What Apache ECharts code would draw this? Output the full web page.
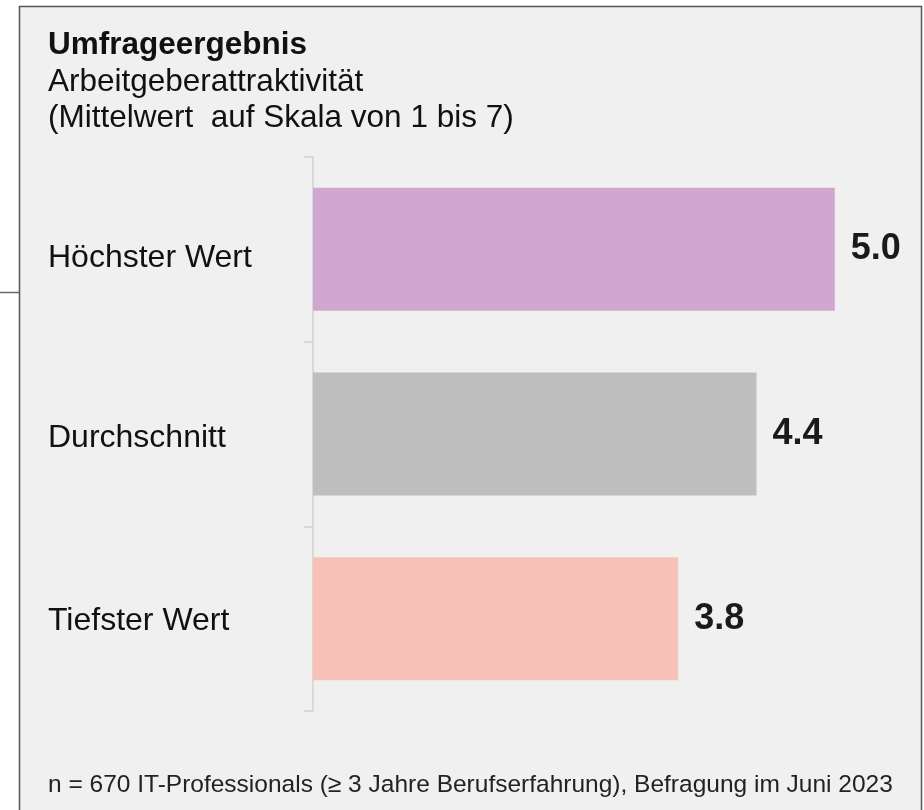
<!DOCTYPE html>
<html>
<head>
<meta charset="utf-8">
<script src="https://cdn.jsdelivr.net/npm/echarts@6/dist/echarts.min.js"></script>
<style>
    html, body { margin: 0; padding: 0; background: #fff; }
    #chart { width: 924px; height: 810px; }
</style>
</head>
<body>
<div id="chart"></div>
<script>
var categories = ['Höchster Wert', 'Durchschnitt', 'Tiefster Wert'];
var values = [5.0, 4.4, 3.8];
var barColors = ['#cfa7d0', '#bebebe', '#f7c1b8'];

var titleText = 'Umfrageergebnis';
var subText = 'Arbeitgeberattraktivität\n(Mittelwert  auf Skala von 1 bis 7)';
var footText = 'n = 670 IT-Professionals (≥ 3 Jahre Berufserfahrung), Befragung im Juni 2023';

var font = '"Liberation Sans", Arial, sans-serif';

var myChart = echarts.init(document.getElementById('chart'));

var data = [];
for (var i = 0; i < values.length; i++) {
    data.push({
        value: values[i],
        itemStyle: { color: barColors[i] }
    });
}

// kleine vertikale Korrektur je Kategorie-Label
var labelRich = {};
var labelPad = [18, 8, 6];
for (var k = 0; k < labelPad.length; k++) {
    labelRich['l' + k] = {
        fontFamily: font,
        fontSize: 32,
        color: '#111',
        padding: [labelPad[k], 0, 0, 0]
    };
}

var option = {
    backgroundColor: '#ffffff',
    animation: false,
    graphic: [
        {
            type: 'rect',
            z: -10,
            shape: { x: 19.5, y: 6.5, width: 902, height: 820 },
            style: { fill: '#f0f0f0', stroke: '#555555', lineWidth: 1.5 }
        },
        {
            type: 'line',
            z: -10,
            shape: { x1: 0, y1: 292.5, x2: 19, y2: 292.5 },
            style: { stroke: '#666666', lineWidth: 1.5 }
        }
    ],
    title: [
        {
            text: titleText,
            left: 48,
            top: 27,
            padding: 0,
            textStyle: { fontFamily: font, fontSize: 31.5, fontWeight: 'bold', color: '#111', lineHeight: 37 }
        },
        {
            text: subText,
            left: 48,
            top: 64,
            padding: 0,
            textStyle: { fontFamily: font, fontSize: 31.5, fontWeight: 'normal', color: '#111', lineHeight: 36 }
        },
        {
            text: footText,
            left: 48,
            top: 771,
            padding: 0,
            textStyle: { fontFamily: font, fontSize: 24.5, fontWeight: 'normal', color: '#222', lineHeight: 28 }
        }
    ],
    grid: {
        left: 313,
        right: 24,
        top: 157,
        bottom: 99
    },
    xAxis: {
        type: 'value',
        min: 1,
        max: 5.5,
        show: false
    },
    yAxis: {
        type: 'category',
        inverse: true,
        data: categories,
        axisLine: { lineStyle: { color: '#d9d9d9', width: 2 } },
        axisTick: { show: true, length: 9, lineStyle: { color: '#d9d9d9', width: 2 } },
        axisLabel: {
            align: 'left',
            verticalAlign: 'middle',
            margin: 265,
            fontFamily: font,
            fontSize: 32,
            color: '#111',
            formatter: function (value, index) {
                return '{l' + index + '|' + value + '}';
            },
            rich: labelRich
        }
    },
    series: [
        {
            type: 'bar',
            data: data,
            barWidth: 123,
            label: {
                show: true,
                position: 'right',
                distance: 16,
                fontFamily: font,
                fontSize: 36,
                fontWeight: 'bold',
                color: '#1a1a1a',
                formatter: function (p) {
                    return p.value.toFixed(1);
                }
            }
        }
    ]
};
myChart.setOption(option);
</script>
</body>
</html>
